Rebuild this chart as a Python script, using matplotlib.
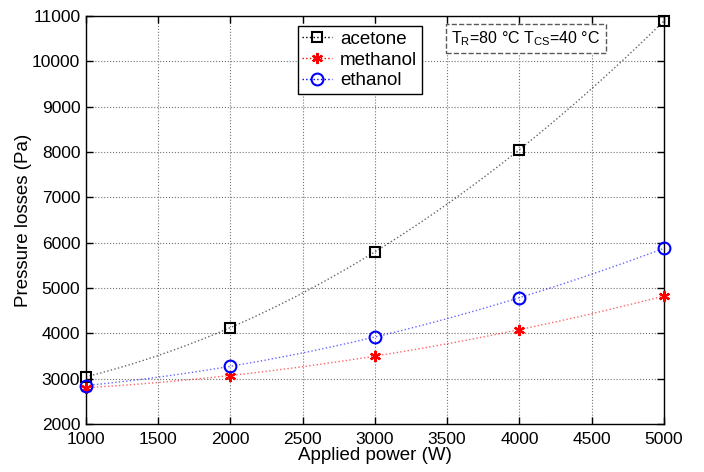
import numpy as np
import matplotlib
matplotlib.use("Agg")
import matplotlib.pyplot as plt

plt.rcParams['font.family'] = ['Liberation Sans', 'DejaVu Sans']
plt.rcParams['mathtext.fontset'] = 'custom'
plt.rcParams['mathtext.rm'] = 'Liberation Sans'
plt.rcParams['mathtext.it'] = 'Liberation Sans'

power = [1000, 2000, 3000, 4000, 5000]
acetone = [3040, 4120, 5800, 8050, 10890]
methanol = [2800, 3060, 3500, 4080, 4820]
ethanol = [2840, 3280, 3920, 4770, 5880]

fig = plt.figure(figsize=(7.04, 4.72), dpi=100)
ax = fig.add_axes([0.122, 0.102, 0.821, 0.864])

xs = np.linspace(1000, 5000, 200)
asterisk = (6, 2, 0)
series = [
    ('acetone', acetone, 'k', 's', dict(markerfacecolor='none', markersize=6.5, markeredgewidth=1.5)),
    ('methanol', methanol, 'r', asterisk, dict(markersize=8, markeredgewidth=1.6)),
    ('ethanol', ethanol, 'b', 'o', dict(markerfacecolor='none', markersize=8.5, markeredgewidth=1.5)),
]
for name, vals, col, mk, mkw in series:
    # quadratic trend through the measured points
    fit = np.polyval(np.polyfit(power, vals, 2), xs)
    ax.plot(xs, fit, color=col, linestyle=':', linewidth=1.0, alpha=0.6)
    ax.plot(power, vals, linestyle='none', marker=mk, color=col, **mkw, clip_on=False, zorder=5)
    ax.plot([], [], color=col, linestyle=':', linewidth=1.0, marker=mk, label=name, **mkw)

ax.set_xlim(1000, 5000)
ax.set_ylim(2000, 11000)
ax.set_xticks(np.arange(1000, 5001, 500))
ax.set_yticks(np.arange(2000, 11001, 1000))
ax.tick_params(direction='in', labelsize=12.5, length=5, top=True, right=True, width=1)
ax.tick_params(axis='x', pad=6)
ax.tick_params(axis='y', pad=4)
ax.grid(True, linestyle=':', color='0.45', linewidth=0.8)
for s in ax.spines.values():
    s.set_linewidth(1.0)

ax.set_xlabel('Applied power (W)', fontsize=13.5, labelpad=0)
ax.set_ylabel('Pressure losses (Pa)', fontsize=13.5, labelpad=0)

leg = ax.legend(loc='upper left', bbox_to_anchor=(0.36, 0.985), fontsize=13.5, fancybox=False,
                edgecolor='k', framealpha=1, handlelength=1.6, borderpad=0.25, labelspacing=0.2,
                handletextpad=0.4, borderaxespad=0.2)
leg.get_frame().set_linewidth(1.0)

ax.text(0.632, 0.945, r'T$_\mathrm{R}$=80 °C T$_\mathrm{CS}$=40 °C', transform=ax.transAxes,
        fontsize=11.5, va='center', ha='left',
        bbox=dict(boxstyle='square,pad=0.35', facecolor='white', edgecolor='0.35', linestyle='--', linewidth=1.0))

fig.savefig('out.png', dpi=100)
